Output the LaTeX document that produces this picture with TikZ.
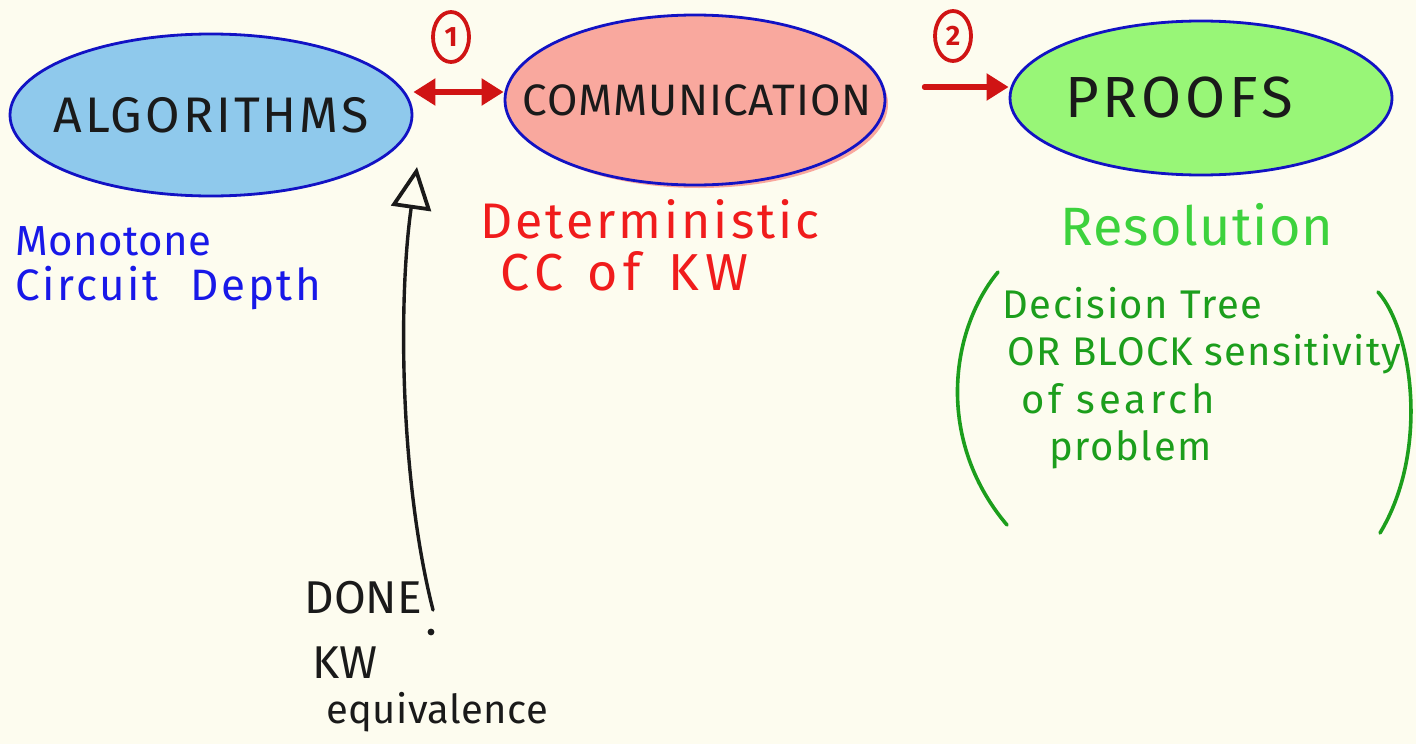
\documentclass[tikz,border=0pt]{standalone}
\usepackage{fontspec}
\setmainfont{Fira Sans}
\usetikzlibrary{shapes.geometric,arrows.meta}
\definecolor{paper}{HTML}{FDFCEF}
\definecolor{algfill}{HTML}{8FC9EC}
\definecolor{comfill}{HTML}{F9A89E}
\definecolor{prffill}{HTML}{98F677}
\definecolor{rim}{HTML}{1212C4}
\definecolor{ink}{HTML}{1A1A1A}
\definecolor{penred}{HTML}{D01414}
\definecolor{txtblue}{HTML}{1818E8}
\definecolor{txtred}{HTML}{F01C1C}
\definecolor{lightgreen}{HTML}{3DD23D}
\definecolor{darkgreen}{HTML}{1C9E1C}
\tikzset{
  bubble/.style={ellipse, draw=rim, line width=1.4pt, inner sep=0pt},
  wash/.style={ellipse, inner sep=0pt},
  title/.style={inner sep=0pt, text=ink},
  label/.style={anchor=base west, inner sep=0pt},
  redarrow/.style={draw=penred, line width=2.6pt, line cap=round,
    -{Triangle[length=11pt,width=13pt]}},
  numring/.style={ellipse, draw=penred, line width=1.9pt, inner sep=0pt,
    minimum width=18pt, minimum height=25pt, text=penred,
    font=\fontsize{14}{14}\selectfont\bfseries},
  bracket/.style={draw=darkgreen, line width=1.8pt, line cap=round},
}
\begin{document}
\begin{tikzpicture}[x=0.5pt,y=-0.5pt]
\fill[paper] (0,0) rectangle (1416,744);
\useasboundingbox (0,0) rectangle (1416,744);

% the three areas
\node[bubble, fill=algfill, minimum width=201pt, minimum height=81pt]
  (alg) at (211,115) {};
\node[title, font=\fontsize{25}{25}\selectfont\addfontfeatures{LetterSpace=6}]
  (algt) at (alg) {ALGORITHMS};
\node[wash, fill=comfill, minimum width=189pt, minimum height=84pt]
  (comwash) at (699,104) {};
\node[bubble, fill=comfill, minimum width=190pt, minimum height=85pt]
  (com) at (695,100) {};
\node[title, font=\fontsize{22}{22}\selectfont\addfontfeatures{LetterSpace=2}]
  (comt) at (697,100) {COMMUNICATION};
\node[bubble, fill=prffill, minimum width=191pt, minimum height=77pt]
  (prf) at (1201,98) {};
\node[title, font=\fontsize{29}{29}\selectfont\addfontfeatures{LetterSpace=7}]
  (prft) at (1179,98) {PROOFS};

% links between areas
\draw[redarrow, {Triangle[length=11pt,width=13pt]}-{Triangle[length=11pt,width=13pt]}]
  (alg.east |- 0,92) -- (com.west |- 0,92);
\node[numring] (n1) at (451,37) {1};
\draw[redarrow] (com.east |- 0,87) ++(38,0) coordinate (l2a) -- (prf.west |- 0,87);
\node[numring] (n2) at (953,36) {2};

% captions under the areas
\node[label, text=txtblue, font=\fontsize{21}{21}\selectfont\addfontfeatures{LetterSpace=1}]
  (mono) at (15,255) {Monotone};
\node[label, text=txtblue, font=\fontsize{22}{22}\selectfont\addfontfeatures{LetterSpace=6}]
  (circ) at (15,300) {Circuit\hspace{16pt}Depth};
\node[label, text=txtred, font=\fontsize{25}{25}\selectfont\addfontfeatures{LetterSpace=6}]
  (det) at (480,238) {Deterministic};
\node[label, text=txtred, font=\fontsize{26}{26}\selectfont\addfontfeatures{LetterSpace=11}]
  (cckw) at (500,290) {CC\hspace{12pt}of\hspace{14pt}KW};
\node[label, text=lightgreen, font=\fontsize{27}{27}\selectfont\addfontfeatures{LetterSpace=2}]
  (res) at (1060,245) {Resolution};

% bracketed remark
\node[label, text=darkgreen, font=\fontsize{20}{20}\selectfont\addfontfeatures{LetterSpace=4}]
  (dt) at (1002,318) {Decision Tree};
\node[label, text=darkgreen, font=\fontsize{20}{20}\selectfont\addfontfeatures{LetterSpace=3}]
  (bs) at (1007,365) {OR BLOCK sensitivity};
\node[label, text=darkgreen, font=\fontsize{20}{20}\selectfont\addfontfeatures{LetterSpace=10}]
  (os) at (1021,413) {of search};
\node[label, text=darkgreen, font=\fontsize{20}{20}\selectfont\addfontfeatures{LetterSpace=4}]
  (pb) at (1049,460) {problem};
\coordinate (lbt) at (998,272);
\coordinate (lbb) at (1007,525);
\coordinate (rbt) at (1378,292);
\coordinate (rbb) at (1380,533);
\draw[bracket] (lbt) .. controls (950,330) and (935,440) .. (lbb);
\draw[bracket] (rbt) .. controls (1412,330) and (1430,450) .. (rbb);

% the finished reduction
\coordinate (tail) at (433,610);
\coordinate (tip) at (417,167);
\draw[ink, line width=1.7pt, line cap=round,
  -{Triangle[open, length=21pt, width=20pt, line width=1.9pt]}]
  (tail) .. controls (400,480) and (398,300) .. (tip);
\fill[ink] (431,632) circle (3.4);
\node[label, text=ink, font=\fontsize{23}{23}\selectfont]
  (done) at (304,613) {DONE};
\node[label, text=ink, font=\fontsize{23}{23}\selectfont]
  (kw) at (312,678) {KW};
\node[label, text=ink, font=\fontsize{20}{20}\selectfont\addfontfeatures{LetterSpace=1}]
  (eq) at (326,723) {equivalence};
\end{tikzpicture}
\end{document}
